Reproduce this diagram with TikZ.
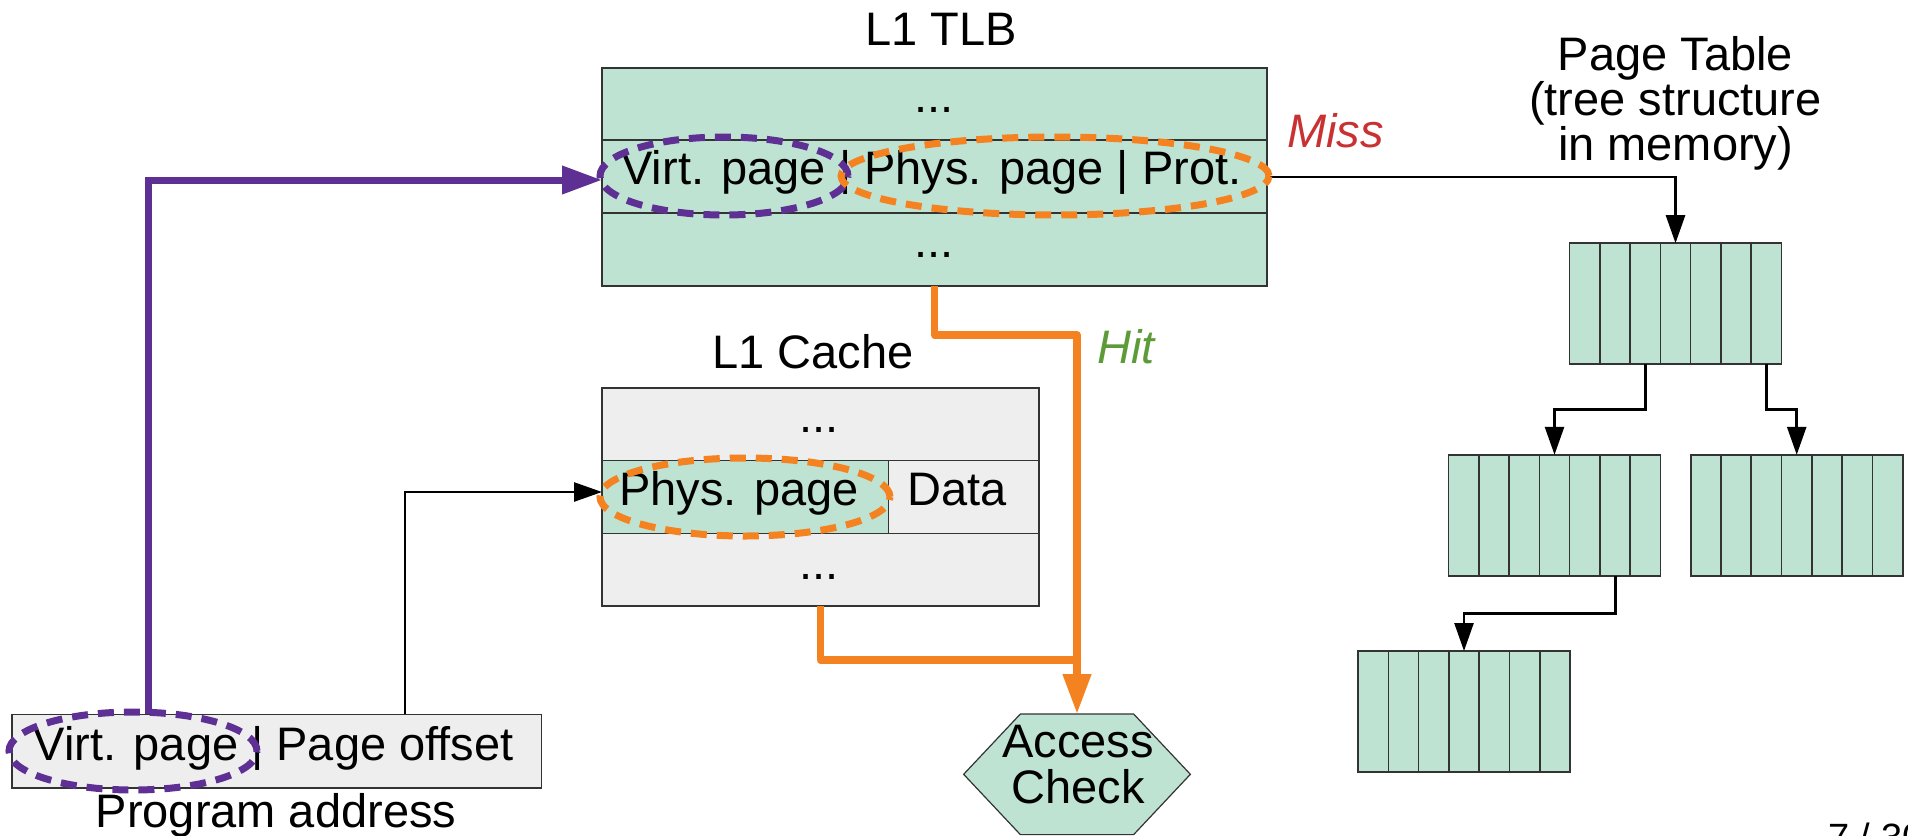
\documentclass[tikz,border=0pt]{standalone}
\usepackage{fontspec}
\setmainfont{Liberation Sans}
\usetikzlibrary{arrows.meta,shapes.geometric,calc}

\definecolor{cellgreen}{RGB}{191,227,211}
\definecolor{cellgray}{RGB}{238,238,238}
\definecolor{edgegray}{RGB}{51,51,51}
\definecolor{vpurple}{RGB}{94,48,148}
\definecolor{porange}{RGB}{245,130,32}
\definecolor{missred}{RGB}{200,50,50}
\definecolor{hitgreen}{RGB}{92,155,55}

\begin{document}
\begin{tikzpicture}[x=1pt,y=-1pt,
  txt/.style={font=\fontsize{47}{47}\selectfont, inner sep=0pt, anchor=base},
  itxt/.style={font=\fontsize{47}{47}\selectfont\itshape, inner sep=0pt, anchor=base west},
  frame/.style={draw=edgegray, line width=1.6pt, inner sep=0pt, outer sep=0pt},
  greenbox/.style={frame, fill=cellgreen},
  graybox/.style={frame, fill=cellgray},
  rule/.style={draw=edgegray, line width=1.6pt},
  ptable/.style={greenbox, minimum width=212pt, minimum height=121pt},
  ring/.style={ellipse, line width=7pt, dash pattern=on 16pt off 10pt,
    inner sep=0pt, outer sep=0pt, minimum height=78pt},
  thinarrow/.style={draw=black, line width=2.6pt, -{Triangle[length=28pt,width=19pt]}},
  purplearrow/.style={draw=vpurple, line width=7pt, -{Triangle[length=40pt,width=27pt]}},
  orangepath/.style={draw=porange, line width=7.5pt, line join=round},
]
\useasboundingbox (0,0) rectangle (1908,835);
\fill[white] (0,0) rectangle (1908,835);

% ---- L1 TLB ----
\node[greenbox, minimum width=665pt, minimum height=218pt] (tlb) at (934.5,177) {};
\draw[rule] (tlb.west |- 0,140) -- (tlb.east |- 0,140);
\draw[rule] (tlb.west |- 0,213) -- (tlb.east |- 0,213);
\node[txt] (tlbtitle) at (941,45) {L1 TLB};
\node[txt] (tlbtop) at (934,112) {...};
\node[txt] (tlbrow) at (931.5,184) {Virt. page | Phys. page | Prot.};
\node[txt] (tlbbot) at (934,257) {...};

% ---- L1 Cache ----
\node[graybox, minimum width=437pt, minimum height=218pt] (cache) at (820.5,497) {};
\fill[cellgreen] (cache.west |- 0,460.3) rectangle (888.5,533.3);
\draw[rule] (cache.west |- 0,460.3) -- (cache.east |- 0,460.3);
\draw[rule] (cache.west |- 0,533.3) -- (cache.east |- 0,533.3);
\draw[rule] (888.5,460.3) -- (888.5,533.3);
\draw[frame] (cache.north west) rectangle (cache.south east);
\node[txt] (cachetitle) at (813,368) {L1 Cache};
\node[txt] (cachetop) at (819,432) {...};
\node[txt] (cachephystxt) at (739,505) {Phys. page};
\node[txt] (cachedata) at (957,505) {Data};
\node[txt] (cachebot) at (819,579) {...};

% ---- Program address ----
\node[graybox, minimum width=529.3pt, minimum height=73.4pt] (prog) at (276.9,751) {};
\node[txt] (progtxt) at (273.6,760) {Virt. page | Page offset};
\node[txt] (progtitle) at (276,827) {Program address};

% ---- Page table tree ----
\foreach \n/\cx/\cy in {pt0/1675.5/303.7, pt1/1554.5/515.3, pt2/1796.7/515.3, pt3/1464/711.5} {
  \node[ptable] (\n) at (\cx,\cy) {};
  \foreach \k in {1,...,6}
    \draw[rule] ($(\n.north west)+(\k*30.286,0)$) -- ($(\n.south west)+(\k*30.286,0)$);
}
\node[txt] (ptl1) at (1675.5,70.7) {Page Table};
\node[txt] (ptl2) at (1675.5,115) {(tree structure};
\node[txt] (ptl3) at (1675.5,160) {in memory)};

% ---- Access check ----
\node[minimum width=226.7pt, minimum height=120.6pt, inner sep=0pt, outer sep=0pt] (check) at (1077,774.3) {};
\draw[fill=cellgreen, draw=edgegray, line width=1.2pt]
  (check.west) -- ($(check.north west)+(56.7,0)$) -- ($(check.north east)+(-56.7,0)$)
  -- (check.east) -- ($(check.south east)+(-56.7,0)$) -- ($(check.south west)+(56.7,0)$) -- cycle;
\node[txt] (checkl1) at (1078,757) {Access};
\node[txt] (checkl2) at (1078,803) {Check};

% ---- labels ----
\node[itxt, text=missred] (miss) at (1287,147) {Miss};
\node[itxt, text=hitgreen] (hit) at (1097,363) {Hit};
\node[font=\fontsize{38}{38}\selectfont, inner sep=0pt, anchor=base west] (pagenum) at (1828,850) {7 / 30};

% ---- connectors ----
\draw[purplearrow] (prog.north -| 148,0) |- (tlb.west |- 0,180);
\draw[thinarrow] (prog.north -| 405,0) |- (cache.west |- 0,492);
\draw[thinarrow] (tlb.east) -| (pt0.north);
\draw[thinarrow] (pt0.south -| 1645.3,0) -- ++(0,45.3) -| (pt1.north);
\draw[thinarrow] (pt0.south -| 1766.5,0) -- ++(0,45.3) -| (pt2.north);
\draw[thinarrow] (pt1.south -| 1615.2,0) -- ++(0,37.6) -| (pt3.north);
\draw[orangepath] (cache.south) |- (check.north |- 0,660);
\draw[orangepath, -{Triangle[length=40pt,width=27pt]}] (tlb.south) -- ++(0,49) -| (check.north);

% ---- highlighted fields ----
\node[ring, draw=vpurple, minimum width=248pt] (tlbvirt) at (724,176) {};
\node[ring, draw=porange, minimum width=428pt] (tlbphys) at (1055,176) {};
\node[ring, draw=porange, minimum width=290pt] (cachephys) at (745,497) {};
\node[ring, draw=vpurple, minimum width=248pt] (progvirt) at (133,751) {};
\end{tikzpicture}
\end{document}
